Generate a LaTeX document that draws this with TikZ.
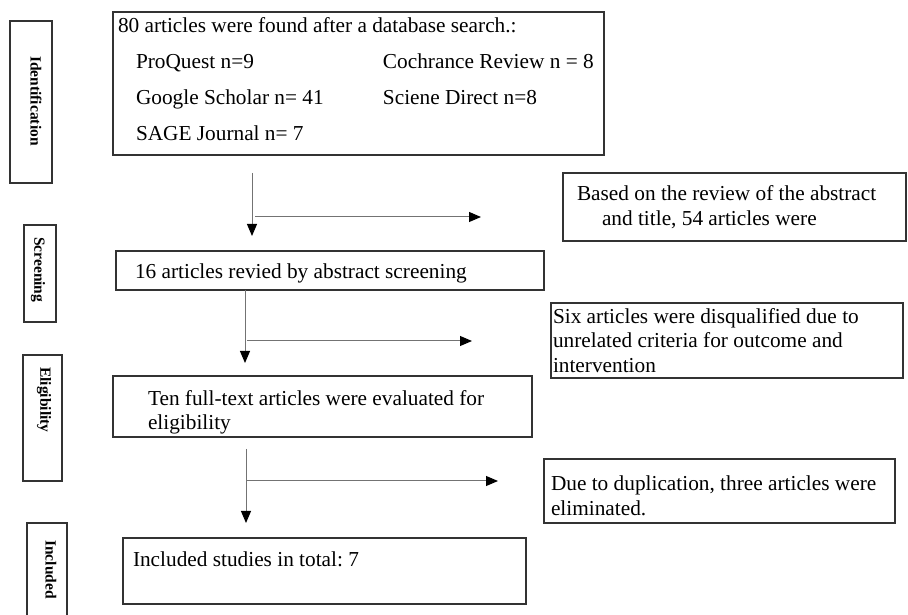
\documentclass[tikz,border=0pt]{standalone}
\usepackage{fontspec}
\setmainfont{Liberation Serif}
\usetikzlibrary{arrows.meta}
\frenchspacing
\newcommand{\boxfont}{\fontsize{21.3}{24.5}\selectfont}
\newcommand{\searchfont}{\fontsize{21.3}{36.3}\selectfont}
\newcommand{\stagefont}{\fontsize{15.5}{17}\selectfont\bfseries}
\tikzset{
  box/.style={draw=black!80, line width=1.1pt, align=flush left, font=\boxfont, inner ysep=0pt},
  stagebox/.style={draw=black!80, line width=1.1pt, inner sep=0pt},
  stagetext/.style={rotate=-90, font=\stagefont, inner sep=0pt},
  flow/.style={draw=black!55, line width=1pt, -{Triangle[length=12pt,width=10pt,color=black]}}
}
\begin{document}
\begin{tikzpicture}[x=1pt, y=1pt]
    \useasboundingbox (0,0) rectangle (908,615);
    % stage column
    \node[stagebox, minimum width=42, minimum height=162] (idstage) at (31,513) {};
    \node[stagebox, minimum width=32, minimum height=97] (scrstage) at (40,341.5) {};
    \node[stagebox, minimum width=39, minimum height=126] (elistage) at (42.5,197) {};
    \node[stagebox, minimum width=40, minimum height=97] (incstage) at (47,43.5) {};
    \node[stagetext] (idlabel) at (36,514) {Identification};
    \node[stagetext, anchor=west] (scrlabel) at (38,378) {Screening};
    \node[stagetext, anchor=west] (elilabel) at (44,248) {Eligibility};
    \node[stagetext, anchor=west] (inclabel) at (51,75) {Included};
    % main column
    \node[box, text width=485, inner xsep=3, minimum height=143, font=\searchfont] (search) at (358.5,531.5)
        {\hspace*{2pt}80 articles were found after a database search.:\\
         \hspace*{20pt}\makebox[247pt][l]{ProQuest n=9}Cochrance Review n = 8\\
         \hspace*{20pt}\makebox[247pt][l]{Google Scholar n= 41}Sciene Direct n=8\\
         \hspace*{20pt}SAGE Journal n= 7\rule[-9pt]{0pt}{1pt}};
    \node[box, text width=390, inner xsep=19, minimum height=39] (screened) at (330,344.5)
        {\rule{0pt}{21pt}16 articles revied by abstract screening};
    \node[box, text width=349, inner xsep=35, minimum height=61] (eligible) at (322.5,208.5)
        {\rule{0pt}{27pt}Ten full-text articles were evaluated for\\ eligibility};
    \node[box, text width=383, inner xsep=10, minimum height=66] (included) at (324.5,44)
        {Included studies in total: 7\\ \mbox{}};
    % excluded column
    \node[box, text width=315, inner xsep=14, minimum height=68] (excl1) at (734.5,408)
        {Based on the review of the abstract\\ \hspace*{25pt}and title, 54 articles were};
    \node[box, text width=348, inner xsep=2, minimum height=75] (excl2) at (727,274.5)
        {Six articles were disqualified due to\\ unrelated criteria for outcome and\\ intervention};
    \node[box, text width=337, inner xsep=7, minimum height=64] (excl3) at (719.5,124)
        {\rule{0pt}{24pt}Due to duplication, three articles were\\ eliminated.};
    % arrows
    \coordinate (v1top) at (252,442); \coordinate (v1end) at (252,379);
    \coordinate (h1start) at (255,398); \coordinate (h1end) at (481,398);
    \coordinate (v2top) at (245,325); \coordinate (v2end) at (245,252);
    \coordinate (h2start) at (247,274); \coordinate (h2end) at (472,274);
    \coordinate (v3top) at (246,166); \coordinate (v3end) at (246,92);
    \coordinate (h3start) at (247,134); \coordinate (h3end) at (498,134);
    \draw[flow] (v1top) -- (v1end);
    \draw[flow] (h1start) -- (h1end);
    \draw[flow] (v2top) -- (v2end);
    \draw[flow] (h2start) -- (h2end);
    \draw[flow] (v3top) -- (v3end);
    \draw[flow] (h3start) -- (h3end);
\end{tikzpicture}
\end{document}
